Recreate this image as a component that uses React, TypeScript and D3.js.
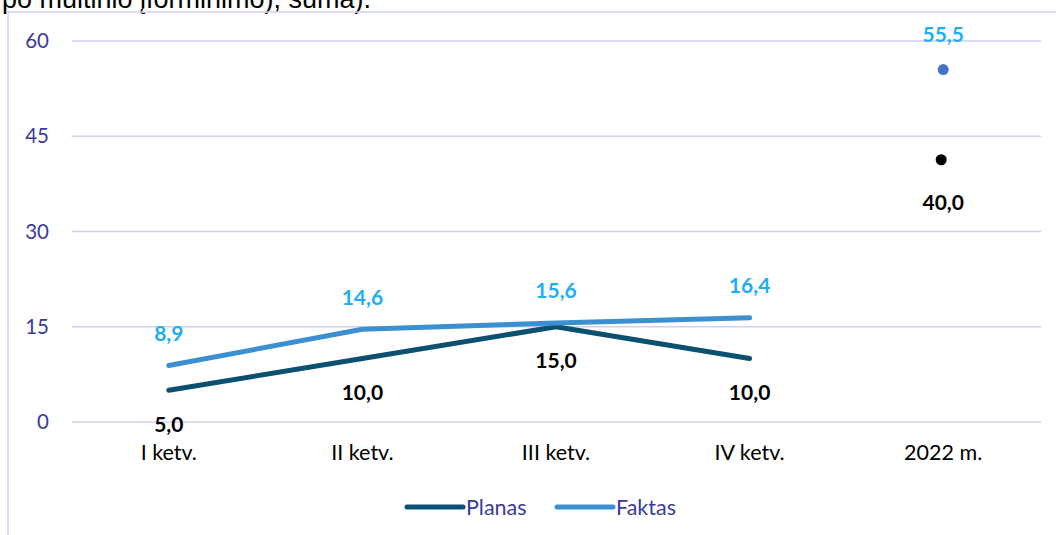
import React from "react";
import * as d3 from "d3";

const categories = ["I ketv.", "II ketv.", "III ketv.", "IV ketv.", "2022 m."];
const quarterCats = ["I ketv.", "II ketv.", "III ketv.", "IV ketv."];
const planas = [5.0, 10.0, 15.0, 10.0];
const faktas = [8.9, 14.6, 15.6, 16.4];
const totalCat = "2022 m.";
const planasTotal = 40.0;
const faktasTotal = 55.5;
const planasTotalMarker = 41.3; // dot position
const yTicks = [0, 15, 30, 45, 60];
const legendItems = ["Planas", "Faktas"];
const titleTail = "po muitinio įforminimo), suma).";

const W = 1056;
const H = 535;
const FONT = "Lato, 'Open Sans', sans-serif";
const C_PLAN = "#0b4f71";
const C_FAKT = "#3a90d0";
const C_FAKT_LBL = "#1eaef5";
const C_GRID = "#d3cff0";
const C_AXIS_TXT = "#3b3a9c";

const fmt = (v: number) => v.toFixed(1).replace(".", ",");

export default function App() {
  const x = d3.scaleBand().domain(categories).range([72, 1040]);
  const y = d3.scaleLinear().domain([0, 60]).range([422, 41]);
  const cx = (c: string) => (x(c) as number) + x.bandwidth() / 2;
  const line = d3
    .line<number>()
    .x((_, i) => cx(quarterCats[i]))
    .y((d) => y(d));

  return (
    <svg
      width={W}
      height={H}
      style={{ position: "absolute", left: 0, top: 0, background: "#fff" }}
    >
      <text
        x={2}
        y={8}
        fontFamily="'Liberation Sans', Arial, sans-serif"
        fontSize={27}
        fill="#000"
      >
        {titleTail}
      </text>
      {/* frame */}
      <line x1={8} x2={8} y1={12} y2={H} stroke={C_GRID} strokeWidth={1.5} />
      <line x1={8} x2={W} y1={12} y2={12} stroke={C_GRID} strokeWidth={1.5} />

      {yTicks.map((t) => (
        <g key={t}>
          <line x1={72} x2={1041} y1={y(t)} y2={y(t)} stroke={C_GRID} strokeWidth={1.5} />
          <text
            x={49}
            y={y(t)}
            dy="0.35em"
            textAnchor="end"
            fontFamily={FONT}
            fontSize={20.5}
            fill={C_AXIS_TXT}
          >
            {t}
          </text>
        </g>
      ))}

      {categories.map((c) => (
        <text
          key={c}
          x={cx(c)}
          y={460}
          textAnchor="middle"
          fontFamily={FONT}
          fontSize={21.5}
          fill="#000"
        >
          {c}
        </text>
      ))}

      <path d={line(planas) || ""} fill="none" stroke={C_PLAN} strokeWidth={5} strokeLinecap="round" strokeLinejoin="round" />
      <path d={line(faktas) || ""} fill="none" stroke={C_FAKT} strokeWidth={5} strokeLinecap="round" strokeLinejoin="round" />

      <circle cx={cx(totalCat)} cy={y(faktasTotal)} r={5.5} fill="#4472c4" />
      <circle cx={cx(totalCat) - 2} cy={y(planasTotalMarker)} r={5.5} fill="#000" />

      {faktas.map((v, i) => (
        <text
          key={"f" + i}
          x={cx(quarterCats[i])}
          y={y(v) - 32}
          dy="0.35em"
          textAnchor="middle"
          fontFamily={FONT}
          fontWeight={700}
          fontSize={21}
          fill={C_FAKT_LBL}
        >
          {fmt(v)}
        </text>
      ))}
      {planas.map((v, i) => (
        <text
          key={"p" + i}
          x={cx(quarterCats[i])}
          y={y(v) + 34}
          dy="0.35em"
          textAnchor="middle"
          fontFamily={FONT}
          fontWeight={700}
          fontSize={21}
          fill="#000"
        >
          {fmt(v)}
        </text>
      ))}
      <text
        x={cx(totalCat)}
        y={y(faktasTotal) - 35}
        dy="0.35em"
        textAnchor="middle"
        fontFamily={FONT}
        fontWeight={700}
        fontSize={21}
        fill={C_FAKT_LBL}
      >
        {fmt(faktasTotal)}
      </text>
      <text
        x={cx(totalCat)}
        y={y(planasTotal) + 35}
        dy="0.35em"
        textAnchor="middle"
        fontFamily={FONT}
        fontWeight={700}
        fontSize={21}
        fill="#000"
      >
        {fmt(planasTotal)}
      </text>

      {legendItems.map((name, i) => {
        const x0 = 407 + i * 150;
        return (
          <g key={name}>
            <line x1={x0} x2={x0 + 56} y1={507} y2={507} stroke={i === 0 ? C_PLAN : C_FAKT} strokeWidth={5} strokeLinecap="round" />
            <text x={x0 + 59} y={507} dy="0.35em" fontFamily={FONT} fontSize={21.5} fill={C_AXIS_TXT}>
              {name}
            </text>
          </g>
        );
      })}
    </svg>
  );
}
